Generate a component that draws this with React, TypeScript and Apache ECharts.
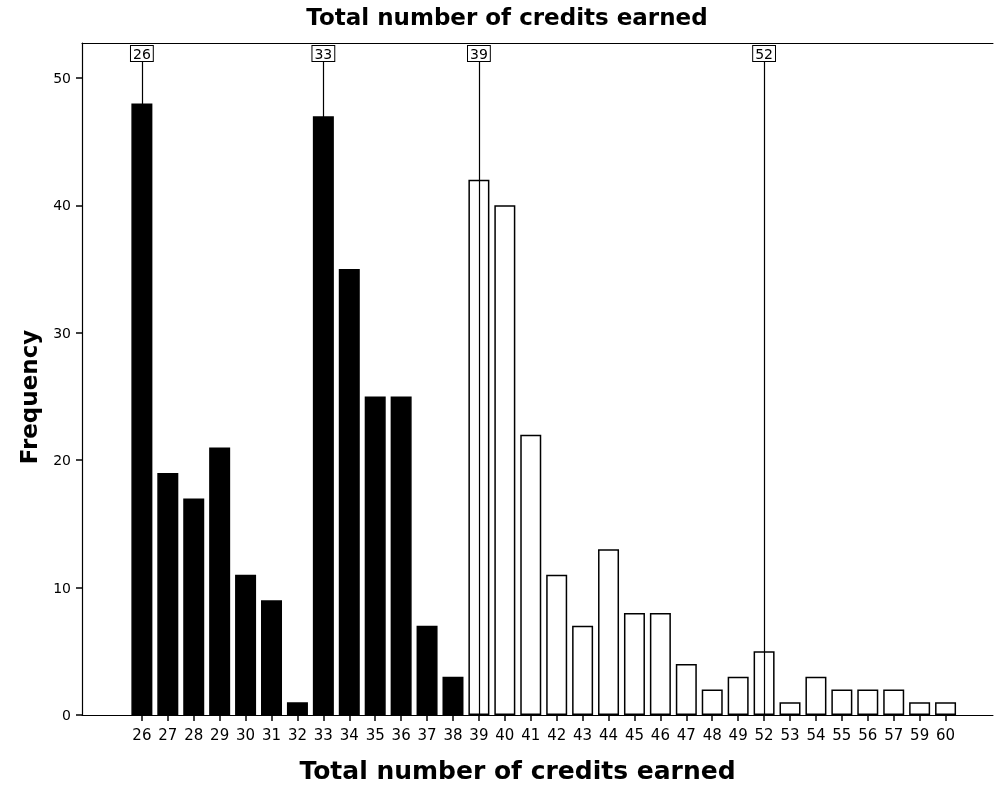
import React, { useEffect, useRef } from "react";
import * as echarts from "echarts";

const categories = ["26","27","28","29","30","31","32","33","34","35","36","37","38","39","40","41","42","43","44","45","46","47","48","49","52","53","54","55","56","57","59","60"];
const frequencies = [48,19,17,21,11,9,1,47,35,25,25,7,3,42,40,22,11,7,13,8,8,4,2,3,5,1,3,2,2,2,1,1];
const markers = ["26","33","39","52"];
const yTicks = [0, 10, 20, 30, 40, 50];
const darkUntil = "39";

export default function App() {
  const ref = useRef<HTMLDivElement>(null);
  useEffect(() => {
    if (!ref.current) return;
    const chart = echarts.init(ref.current, null, { renderer: "svg" });
    const idx = categories.map((_, i) => i);
    const darkIndex = categories.indexOf(darkUntil);
    const font = "DejaVu Sans";
    chart.setOption({
      animation: false,
      title: {
        text: "Total number of credits earned",
        left: 502,
        top: 0,
        textAlign: "center",
        textStyle: { fontFamily: font, fontWeight: "bold", fontSize: 23, color: "#000" },
      },
      grid: { left: 82, right: 2, top: 43, bottom: 72 },
      xAxis: [
        {
          type: "value",
          min: -2.31,
          max: 32.83,
          splitLine: { show: false },
          axisLine: { show: true, onZero: false, lineStyle: { color: "#000", width: 1 } },
          axisTick: { show: true, length: 6, customValues: idx, lineStyle: { color: "#000", width: 1.5 } },
          axisLabel: {
            customValues: idx,
            margin: 12,
            fontFamily: font,
            fontSize: 15,
            color: "#000",
            formatter: (v: number) => categories[Math.round(v)] ?? "",
          },
          name: "Total number of credits earned",
          nameLocation: "middle",
          nameGap: 43,
          nameTextStyle: { fontFamily: font, fontWeight: "bold", fontSize: 25, color: "#000", padding: [0, 40, 0, 0] },
        },
        {
          type: "value",
          position: "top",
          min: -2.31,
          max: 32.83,
          splitLine: { show: false },
          axisLine: { show: true, onZero: false, lineStyle: { color: "#000", width: 1 } },
          axisTick: { show: false },
          axisLabel: { show: false },
        },
      ],
      yAxis: {
        type: "value",
        min: 0,
        max: 52.74,
        interval: 10,
        splitLine: { show: false },
        axisLine: { show: true, onZero: false, lineStyle: { color: "#000", width: 1.2 } },
        axisTick: { show: true, length: 6, customValues: yTicks, lineStyle: { color: "#000", width: 1.5 } },
        axisLabel: {
          customValues: yTicks,
          margin: 11,
          fontFamily: font,
          fontSize: 14,
          color: "#000",
        },
        name: "Frequency",
        nameLocation: "middle",
        nameGap: 42,
        nameRotate: 90,
        nameTextStyle: { fontFamily: font, fontWeight: "bold", fontSize: 23, color: "#000", padding: [0, 36, 0, 0] },
      },
      series: [
        {
          type: "bar",
          xAxisIndex: 0,
          barWidth: 21,
          data: frequencies.map((v, i) => [i, v]),
          itemStyle: {
            color: (p: any) => (p.data[0] < darkIndex ? "#000" : "#fff"),
            borderColor: "#000",
            borderWidth: 1.5,
          },
          markLine: {
            silent: true,
            symbol: "none",
            lineStyle: { color: "#000", width: 1.2, type: "solid" },
            label: {
              show: true,
              position: "end",
              distance: 1,
              fontFamily: font,
              fontSize: 14,
              color: "#000",
              backgroundColor: "#fff",
              borderColor: "#000",
              borderWidth: 1,
              padding: [1, 2, 0, 2],
              formatter: (p: any) => p.name,
            },
            data: markers.map((m) => {
              const i = categories.indexOf(m);
              return [
                { name: m, coord: [i, 0] },
                { coord: [i, 51.25] },
              ];
            }),
          },
        },
      ],
    });
    return () => chart.dispose();
  }, []);
  return <div ref={ref} style={{ position: "fixed", left: 0, top: 0, width: 995, height: 788 }} />;
}
